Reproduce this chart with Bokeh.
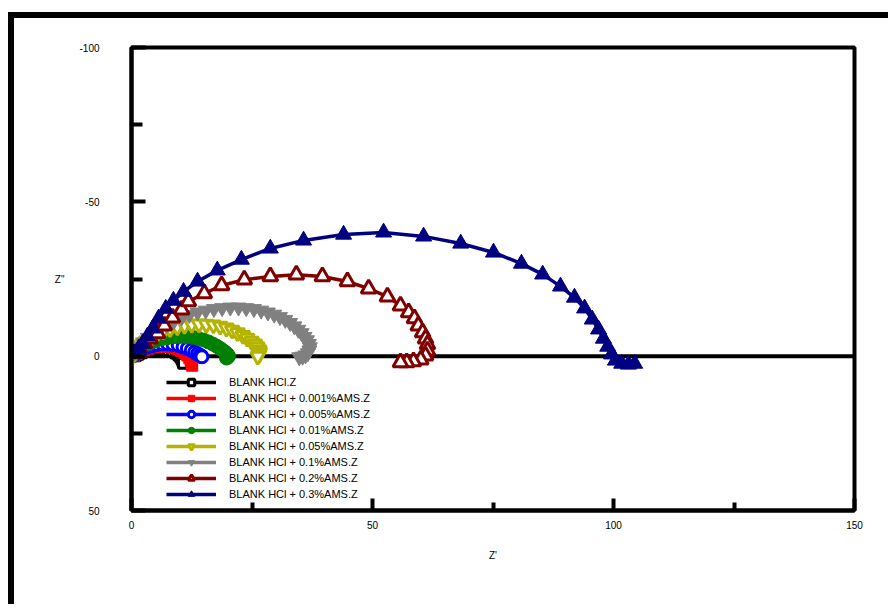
from bokeh.plotting import figure
from bokeh.models import Range1d, FixedTicker, Span, Legend, LegendItem
from bokeh.embed import file_html
from bokeh.resources import INLINE

# ---- data (Z', Z'') ----
labels = [
    "BLANK HCl.Z",
    "BLANK HCl + 0.001%AMS.Z",
    "BLANK HCl + 0.005%AMS.Z",
    "BLANK HCl + 0.01%AMS.Z",
    "BLANK HCl + 0.05%AMS.Z",
    "BLANK HCl + 0.1%AMS.Z",
    "BLANK HCl + 0.2%AMS.Z",
    "BLANK HCl + 0.3%AMS.Z",
]

blank_x = [0.8, 1.4, 2.1, 2.9, 3.8, 4.8, 5.8, 6.8, 7.7, 8.5, 9.2, 9.8, 10.2, 10.5, 10.7, 10.8]
blank_y = [-0.1, -0.6, -1.1, -1.5, -1.9, -2.1, -2.2, -2.1, -1.9, -1.5, -1.0, -0.4, 0.3, 1.0, 1.7, 2.3]

c0001_x = [0.6, 1.1, 1.8, 2.6, 3.5, 4.5, 5.5, 6.6, 7.6, 8.6, 9.5, 10.3, 11.0, 11.6, 12.0, 12.3, 12.5, 12.6]
c0001_y = [-0.1, -0.7, -1.3, -1.9, -2.4, -2.8, -3.0, -3.1, -3.0, -2.7, -2.3, -1.7, -1.0, -0.2, 0.7, 1.6, 2.4, 3.1]

c0005_x = [0.4, 0.9, 1.5, 2.3, 3.2, 4.2, 5.3, 6.4, 7.5, 8.6, 9.7, 10.7, 11.6, 12.4, 13.1, 13.7, 14.2, 14.5, 14.6]
c0005_y = [-0.2, -0.9, -1.6, -2.3, -2.9, -3.4, -3.8, -4.0, -4.0, -3.8, -3.5, -3.0, -2.5, -1.9, -1.3, -0.8, -0.3, 0.0, 0.2]

c001_x = [0.3, 0.7, 1.3, 2.0, 2.9, 3.9, 5.0, 6.2, 7.5, 8.8, 10.1, 11.4, 12.7, 13.9, 15.0, 16.0,
          16.9, 17.7, 18.4, 19.0, 19.5, 19.9, 20.1, 20.0, 19.7]
c001_y = [-0.2, -1.0, -1.9, -2.8, -3.6, -4.4, -5.0, -5.6, -6.0, -6.3, -6.4, -6.3, -6.1, -5.7, -5.2, -4.6,
          -3.9, -3.2, -2.5, -1.8, -1.2, -0.6, -0.1, 0.3, 0.6]

c005_x = [0.3, 0.7, 1.3, 2.1, 3.0, 4.1, 5.3, 6.6, 8.0, 9.5, 11.0, 12.5, 14.0, 15.5, 17.0, 18.4, 19.7,
          20.9, 22.0, 23.1, 24.0, 24.9, 25.6, 26.1, 26.5, 26.6, 26.5, 26.2]
c005_y = [-0.3, -1.3, -2.5, -3.7, -4.9, -6.1, -7.2, -8.1, -8.9, -9.5, -10.0, -10.3, -10.4, -10.3, -10.1,
          -9.7, -9.1, -8.4, -7.6, -6.7, -5.8, -4.8, -3.9, -3.0, -2.1, -1.3, -0.6, 0.0]

c01_x = [0.3, 0.8, 1.5, 2.4, 3.4, 4.6, 5.9, 7.3, 8.8, 10.4, 12.0, 13.7, 15.4, 17.1, 18.8, 20.5, 22.2,
         23.8, 25.4, 26.9, 28.3, 29.6, 30.8, 31.9, 32.9, 33.8, 34.6, 35.3, 35.9, 36.4, 36.8, 37.0,
         36.9, 36.6, 36.1, 35.5, 34.8]
c01_y = [-0.4, -1.6, -3.0, -4.5, -6.0, -7.5, -8.9, -10.2, -11.4, -12.5, -13.4, -14.2, -14.8, -15.3,
         -15.6, -15.8, -15.8, -15.6, -15.3, -14.8, -14.2, -13.5, -12.7, -11.8, -10.8, -9.7, -8.6,
         -7.5, -6.3, -5.2, -4.0, -2.9, -1.9, -1.0, -0.3, 0.1, 0.3]

c02_x = [0.6, 1.7, 2.7, 3.9, 5.4, 6.8, 8.5, 10.4, 11.8, 15.1, 18.7, 23.4, 28.8, 34.2, 39.6, 44.8,
         49.2, 53.1, 55.8, 57.5, 58.7, 59.5, 60.4, 61.0, 61.4, 61.4, 61.0, 60.0, 58.5, 57.1, 55.8]
c02_y = [-0.9, -2.5, -4.1, -5.7, -7.4, -9.9, -12.5, -15.1, -17.7, -20.3, -22.9, -24.8, -25.8, -26.4,
         -25.8, -24.2, -21.9, -19.3, -16.4, -14.2, -12.2, -9.9, -7.7, -5.7, -3.8, -1.8, -0.2, 1.1,
         1.7, 2.0, 2.0]

c03_x = [0.6, 1.5, 2.3, 3.3, 4.4, 5.6, 7.1, 8.7, 10.8, 13.7, 17.8, 22.8, 28.8, 35.7, 44.0, 52.3,
         60.6, 68.3, 75.1, 80.9, 85.3, 89.0, 91.9, 94.0, 95.6, 96.9, 97.9, 98.8, 99.6, 100.4, 101.7,
         103.1, 104.4]
c03_y = [-0.9, -2.5, -4.1, -6.4, -9.0, -12.2, -15.4, -18.0, -20.9, -24.2, -27.8, -31.3, -34.9, -37.5,
         -39.4, -40.1, -38.8, -36.5, -33.6, -30.0, -26.5, -22.6, -19.0, -15.5, -11.9, -8.7, -5.7,
         -3.1, -0.6, 1.4, 2.4, 2.7, 2.4]

x_ticks = [0, 50, 100, 150]
x_minor = [25, 75, 125]
y_ticks = [-100, -50, 0, 50]
y_minor = [-75, -25, 25]

xs = [blank_x, c0001_x, c0005_x, c001_x, c005_x, c01_x, c02_x, c03_x]
ys = [blank_y, c0001_y, c0005_y, c001_y, c005_y, c01_y, c02_y, c03_y]

colors = ["#000000", "#ff0000", "#0000ff", "#008000", "#b4b400", "#808080", "#800000", "#000080"]
markers = ["square", "square", "circle", "circle", "inverted_triangle", "inverted_triangle", "triangle", "triangle"]
filled = [False, True, False, True, False, True, False, True]
sizes = [10, 11, 12, 14, 14, 15, 15, 16]

p = figure(width=880, height=592, x_range=Range1d(0, 150), y_range=Range1d(50, -100),
           output_backend="svg", toolbar_location=None,
           min_border_left=117, min_border_right=40, min_border_top=29, min_border_bottom=100)
p.styles = {"margin-left": "8px", "margin-top": "12px",
            "border-left": "6px solid black", "border-top": "6px solid black"}
p.background_fill_color = "white"
p.border_fill_color = "white"
p.grid.visible = False
p.outline_line_color = "black"
p.outline_line_width = 4
p.outline_line_alpha = 1.0

p.add_layout(Span(location=0, dimension="width", line_color="black", line_width=4, level="underlay"))

items = []
for i in range(8):
    lr = p.line(xs[i], ys[i], line_color=colors[i], line_width=3.5)
    fc = colors[i] if filled[i] else "white"
    sr = p.scatter(xs[i], ys[i], marker=markers[i], size=sizes[i], line_color=colors[i],
                   fill_color=fc, line_width=3 if not filled[i] else 1)
    items.append(LegendItem(label=labels[i], renderers=[lr, sr]))

legend = Legend(items=items, location=(35, 8), border_line_color=None, background_fill_alpha=0,
                padding=0, margin=0, spacing=0, glyph_width=50, glyph_height=16, label_height=16,
                label_standoff=13, label_text_font="Liberation Sans", label_text_font_size="11px",
                label_text_color="black")
p.add_layout(legend)

for ax in (p.xaxis[0], p.yaxis[0]):
    ax.axis_line_width = 4
    ax.major_tick_line_width = 4
    ax.minor_tick_line_width = 4
    ax.major_tick_out = 0
    ax.minor_tick_out = 0
    ax.major_label_text_font = "Liberation Sans"
    ax.major_label_text_font_size = "10px"
    ax.major_label_text_color = "black"
    ax.axis_label_text_font = "Liberation Sans"
    ax.axis_label_text_font_size = "10px"
    ax.axis_label_text_font_style = "normal"
    ax.axis_label_text_color = "black"

p.xaxis.ticker = FixedTicker(ticks=x_ticks, minor_ticks=x_minor)
p.yaxis.ticker = FixedTicker(ticks=y_ticks, minor_ticks=y_minor)
p.yaxis.major_label_overrides = {t: str(t) for t in y_ticks}
p.xaxis.major_label_overrides = {t: str(t) for t in x_ticks}
p.xaxis.major_tick_in = 12
p.xaxis.minor_tick_in = 8
p.yaxis.major_tick_in = 14
p.yaxis.minor_tick_in = 11
p.xaxis.major_label_standoff = 10
p.yaxis.major_label_standoff = 32
p.xaxis.axis_label = "Z'"
p.yaxis.axis_label = 'Z"'
p.yaxis.axis_label_orientation = "horizontal"
p.xaxis.axis_label_standoff = 18
p.yaxis.axis_label_standoff = 12

open("out.html", "w").write(file_html(p, INLINE))
